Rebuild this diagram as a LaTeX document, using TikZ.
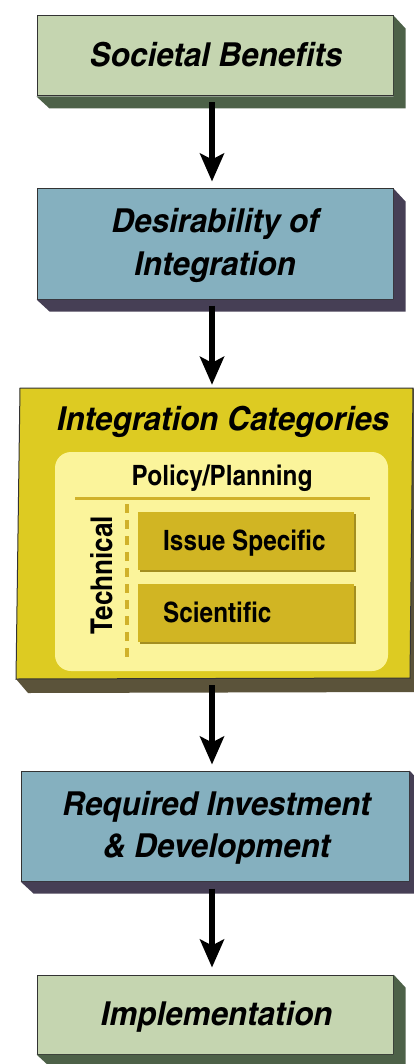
\documentclass[tikz,border=0pt]{standalone}
\usepackage{fontspec}
\setmainfont{TeX Gyre Heros Cn}
\newfontfamily\titlefont{TeX Gyre Heros Cn}[FakeStretch=1.16]
\newfontfamily\innerfont{TeX Gyre Heros Cn}[FakeStretch=1.06]
\usetikzlibrary{arrows.meta,calc}
\definecolor{gfill}{HTML}{C5D5B0}
\definecolor{gshad}{HTML}{4D6148}
\definecolor{bfill}{HTML}{85B0BF}
\definecolor{bshad}{HTML}{463F55}
\definecolor{yfill}{HTML}{DDCB22}
\definecolor{yshad}{HTML}{5B533A}
\definecolor{ilight}{HTML}{FBF49B}
\definecolor{ibox}{HTML}{D1B523}
\definecolor{ibev}{HTML}{A38E20}
\definecolor{gold}{HTML}{D0B12A}
\definecolor{edge}{HTML}{333333}
\tikzset{
  frontbox/.style={draw=edge, line width=1pt, rectangle, inner sep=0pt},
  title/.style={font=\titlefont\fontsize{33}{43}\selectfont\bfseries\itshape, inner sep=0pt, anchor=base},
  inner/.style={font=\innerfont\fontsize{28}{30}\selectfont\bfseries, inner sep=0pt},
  arr/.style={line width=6pt, -{Stealth[length=28pt,width=24pt,inset=6pt]}},
  ibx/.style={fill=ibox, draw=none, rectangle, inner sep=0pt, minimum width=216pt, minimum height=58pt}
}
\begin{document}
\begin{tikzpicture}[x=1pt,y=-1pt]
\useasboundingbox (0,0) rectangle (414,1064);
\clip (0,0) rectangle (414,1064);
% Box 1
\node[frontbox, fill=gfill, minimum width=356pt, minimum height=80pt] (b1) at (215,56) {};
\fill[gshad] (b1.north east) -- ++(12,13) -- ++(0,80) -- ++(-356,0) -- (b1.south west) -- (b1.south east) -- cycle;
\node[title] (t1) at (216,67) {Societal Benefits};
% Box 2
\node[frontbox, fill=bfill, minimum width=356pt, minimum height=110pt] (b2) at (215,244) {};
\fill[bshad] (b2.north east) -- ++(12,13) -- ++(0,110) -- ++(-356,0) -- (b2.south west) -- (b2.south east) -- cycle;
\node[title] (t2a) at (215,233) {Desirability of};
\node[title] (t2b) at (215,276) {Integration};
% Box 3 (slightly skewed)
\coordinate (c3nw) at (20,388);
\coordinate (c3ne) at (413,388);
\coordinate (c3se) at (410,678);
\coordinate (c3sw) at (16,679);
\fill[yshad] (c3ne) -- ++(12,13) -- ($(c3se)+(12,14)$) -- ($(c3sw)+(12,14)$) -- (c3sw) -- (c3se) -- cycle;
\filldraw[fill=yfill, draw=edge, line width=1pt] (c3nw) -- (c3ne) -- (c3se) -- (c3sw) -- cycle;
\node[inner sep=0pt, minimum width=393pt, minimum height=290pt] (b3) at (214,533) {};
\node[title] (t3) at (223,430) {Integration Categories};
\fill[ilight, rounded corners=16pt] (55,452) rectangle (388,671);
\node[inner, anchor=base] (pp) at (222,485) {Policy/Planning};
\coordinate (hl1) at (75,498);
\coordinate (hl2) at (370,498);
\draw[gold, line width=3pt] (hl1) -- (hl2);
\coordinate (dl1) at (127,504);
\coordinate (dl2) at (127,658);
\draw[gold, line width=4pt, dash pattern=on 9pt off 7pt] (dl1) -- (dl2);
\node[inner, font=\innerfont\fontsize{30}{32}\selectfont\bfseries, anchor=base, rotate=90] (tech) at (112,575) {Technical};
\fill[ibev] (139.5,513.5) rectangle (356,572);
\node[ibx, anchor=north west] (is) at (138,512) {};
\node[inner, anchor=base west] (ist) at (163,550) {Issue Specific};
\fill[ibev] (139.5,585.5) rectangle (356,644);
\node[ibx, anchor=north west] (sc) at (138,584) {};
\node[inner, anchor=base west] (sct) at (163,622) {Scientific};
% Box 4
\node[frontbox, fill=bfill, minimum width=388pt, minimum height=110pt] (b4) at (215,826) {};
\fill[bshad] (b4.north east) -- ++(12,13) -- ++(0,110) -- ++(-388,0) -- (b4.south west) -- (b4.south east) -- cycle;
\node[title] (t4a) at (216.5,815) {Required Investment};
\node[title] (t4b) at (216.5,857) {\& Development};
% Box 5
\node[frontbox, fill=gfill, minimum width=356pt, minimum height=79pt] (b5) at (215,1014.5) {};
\fill[gshad] (b5.north east) -- ++(12,13) -- ++(0,79) -- ++(-356,0) -- (b5.south west) -- (b5.south east) -- cycle;
\node[title] (t5) at (216.5,1025) {Implementation};
% Arrows
\draw[arr] ([xshift=-3pt,yshift=-6pt]b1.south) -- ([xshift=-3pt,yshift=7pt]b2.north);
\draw[arr] ([xshift=-3pt,yshift=-6pt]b2.south) -- ([xshift=-2pt,yshift=3pt]b3.north);
\draw[arr] ([xshift=-2pt,yshift=-7pt]b3.south) -- ([xshift=-3pt,yshift=6pt]b4.north);
\draw[arr] ([xshift=-3pt,yshift=-7pt]b4.south) -- ([xshift=-3pt,yshift=7pt]b5.north);
\end{tikzpicture}
\end{document}
